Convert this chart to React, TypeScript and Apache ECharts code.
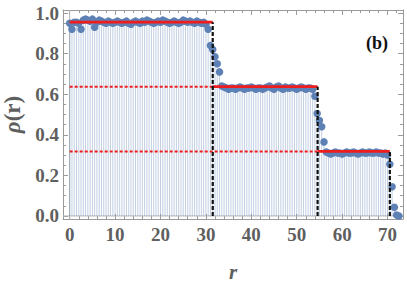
import React, { useEffect, useRef } from "react";
import * as echarts from "echarts";

// sample spacing along r (points at r = 0, 0.5, 1, ...)
const R_STEP = 0.5;

// density values rho(r), r = 0 .. 72.5 in steps of 0.5
const rhoPlateau1 = [
  0.95, 0.92, 0.955, 0.955, 0.95, 0.92, 0.965, 0.97, 0.965, 0.96,
  0.97, 0.93, 0.955, 0.965, 0.96, 0.955, 0.95, 0.96, 0.955, 0.95,
  0.955, 0.96, 0.955, 0.95, 0.955, 0.96, 0.95, 0.945, 0.955, 0.96,
  0.955, 0.95, 0.96, 0.955, 0.965, 0.96, 0.955, 0.95, 0.955, 0.96,
  0.955, 0.965, 0.96, 0.955, 0.95, 0.955, 0.96, 0.955, 0.95, 0.955,
  0.965, 0.96, 0.955, 0.96, 0.955, 0.95, 0.96, 0.955, 0.95, 0.955,
  0.945,
];
const rhoDrop1 = [0.92, 0.84, 0.82, 0.785, 0.75, 0.71, 0.64];
const rhoPlateau2 = [
  0.635, 0.63, 0.625, 0.63, 0.63, 0.625, 0.63, 0.635, 0.63, 0.625,
  0.63, 0.63, 0.635, 0.63, 0.625, 0.63, 0.63, 0.625, 0.63, 0.635,
  0.64, 0.63, 0.625, 0.635, 0.64, 0.63, 0.625, 0.635, 0.63, 0.63,
  0.635, 0.63, 0.625, 0.63, 0.635, 0.63, 0.625, 0.63, 0.63,
];
const rhoDrop2 = [0.625, 0.59, 0.505, 0.47, 0.44, 0.365];
const rhoPlateau3 = [
  0.315, 0.31, 0.305, 0.31, 0.315, 0.31, 0.31, 0.305, 0.31, 0.315,
  0.31, 0.31, 0.315, 0.31, 0.305, 0.31, 0.315, 0.31, 0.31, 0.315,
  0.31, 0.31, 0.315, 0.31, 0.31, 0.305, 0.31,
];
const rhoDrop3 = [0.30, 0.255, 0.144, 0.043, 0.005, 0.0];

const rhoValues = [
  ...rhoPlateau1,
  ...rhoDrop1,
  ...rhoPlateau2,
  ...rhoDrop2,
  ...rhoPlateau3,
  ...rhoDrop3,
];

// fitted plateau levels and boundaries
const levels = [0.955, 0.637, 0.318];
const boundaries = [31.5, 54.6, 70.5];

const xMajor = [0, 10, 20, 30, 40, 50, 60, 70];
const xMinor = [0, 2, 4, 6, 8, 10, 12, 14, 16, 18, 20, 22, 24, 26, 28, 30, 32, 34, 36, 38, 40, 42, 44, 46, 48, 50, 52, 54, 56, 58, 60, 62, 64, 66, 68, 70, 72];
const yMajor = [0, 0.2, 0.4, 0.6, 0.8, 1.0];
const yMinor = [0, 0.05, 0.1, 0.15, 0.2, 0.25, 0.3, 0.35, 0.4, 0.45, 0.5, 0.55, 0.6, 0.65, 0.7, 0.75, 0.8, 0.85, 0.9, 0.95, 1.0];

const X_MIN = -1.47;
const X_MAX = 73.4;
const Y_MIN = -0.015;
const Y_MAX = 1.015;

const FRAME = "#9a9a9a";
const LABEL = "#5f5f5f";
const RED = "#ee1c1c";
const SERIF = "Liberation Serif";

export default function App() {
  const ref = useRef<HTMLDivElement>(null);
  useEffect(() => {
    if (!ref.current) return;
    const chart = echarts.init(ref.current, null, { renderer: "svg" });
    const pts = rhoValues.map((v, i) => [i * R_STEP, v]);

    const labelStyle = {
      color: LABEL,
      fontFamily: SERIF,
      fontWeight: "bold" as const,
      fontSize: 19,
    };

    const xAx = (pos: "bottom" | "top", major: boolean, showLabel: boolean, showLine: boolean) => ({
      type: "value",
      min: X_MIN,
      max: X_MAX,
      position: pos,
      axisLine: { show: showLine, onZero: false, lineStyle: { color: FRAME, width: 1 } },
      axisTick: {
        show: true,
        inside: true,
        length: major ? 5 : 3,
        customValues: major ? xMajor : xMinor,
        lineStyle: { color: FRAME, width: 1 },
      },
      axisLabel: showLabel
        ? { show: true, customValues: xMajor, margin: 6, ...labelStyle }
        : { show: false },
      splitLine: { show: false },
    });
    const yAx = (pos: "left" | "right", major: boolean, showLabel: boolean, showLine: boolean) => ({
      type: "value",
      min: Y_MIN,
      max: Y_MAX,
      position: pos,
      axisLine: { show: showLine, onZero: false, lineStyle: { color: FRAME, width: 1 } },
      axisTick: {
        show: true,
        inside: true,
        length: major ? 5 : 3,
        customValues: major ? yMajor : yMinor,
        lineStyle: { color: FRAME, width: 1 },
      },
      axisLabel: showLabel
        ? {
            show: true,
            customValues: yMajor,
            margin: 4,
            formatter: (v: number) => v.toFixed(1),
            ...labelStyle,
          }
        : { show: false },
      splitLine: { show: false },
    });

    const xAxes = [
      {
        ...xAx("bottom", true, true, true),
        name: "r",
        nameLocation: "middle",
        nameGap: 42,
        nameTextStyle: {
          color: LABEL,
          fontFamily: SERIF,
          fontStyle: "italic",
          fontWeight: "bold",
          fontSize: 21,
        },
      },
      xAx("bottom", false, false, false),
      xAx("top", true, false, true),
      xAx("top", false, false, false),
    ];
    const yAxes = [
      {
        ...yAx("left", true, true, true),
        name: "{i|ρ}(r)",
        nameLocation: "middle",
        nameGap: 38,
        nameTextStyle: {
          color: LABEL,
          fontFamily: SERIF,
          fontWeight: "bold",
          fontSize: 23,
          rich: {
            i: {
              color: LABEL,
              fontFamily: SERIF,
              fontStyle: "italic",
              fontWeight: "bold",
              fontSize: 23,
            },
          },
        },
      },
      yAx("left", false, false, false),
      yAx("right", true, false, true),
      yAx("right", false, false, false),
    ];

    const seg = (name: string, data: number[][], color: string, type: any, width: number, z: number) => ({
      name,
      type: "line",
      data,
      symbol: "none",
      silent: true,
      z,
      lineStyle: { color, type, width },
    });

    chart.setOption({
      animation: false,
      grid: {
        left: 63,
        top: 10,
        right: 4,
        bottom: 63,
        containLabel: false,
        outerBoundsMode: "none",
      },
      xAxis: xAxes,
      yAxis: yAxes,
      series: [
        seg("axisY", [[0, Y_MIN], [0, Y_MAX]], "#b5b5b5", "solid", 1, 1),
        seg("axisX", [[X_MIN, 0], [X_MAX, 0]], "#b5b5b5", "solid", 1, 1),
        {
          name: "stems",
          type: "bar",
          data: pts,
          barWidth: 1,
          z: 2,
          itemStyle: { color: "rgba(94,129,181,0.38)" },
        },
        seg("dot1", [[0, levels[1]], [boundaries[0], levels[1]]], RED, [3, 2], 2, 3),
        seg("dot2", [[0, levels[2]], [boundaries[1], levels[2]]], RED, [3, 2], 2, 3),
        {
          name: "points",
          type: "scatter",
          data: pts,
          symbolSize: 7.5,
          z: 4,
          itemStyle: { color: "#5e81b5", opacity: 1 },
        },
        seg("lvl1", [[0, levels[0]], [boundaries[0], levels[0]]], RED, "solid", 2.8, 5),
        seg("lvl2", [[boundaries[0], levels[1]], [boundaries[1], levels[1]]], RED, "solid", 2.8, 5),
        seg("lvl3", [[boundaries[1], levels[2]], [boundaries[2], levels[2]]], RED, "solid", 2.8, 5),
        seg("b1", [[boundaries[0], 0], [boundaries[0], levels[0]]], "#111111", [4, 2], 2.2, 6),
        seg("b2", [[boundaries[1], 0], [boundaries[1], levels[1]]], "#111111", [4, 2], 2.2, 6),
        seg("b3", [[boundaries[2], 0], [boundaries[2], levels[2]]], "#111111", [4, 2], 2.2, 6),
      ],
      graphic: [
        {
          type: "text",
          x: 377,
          y: 43,
          style: {
            text: "(b)",
            fill: "#111111",
            fontFamily: SERIF,
            fontWeight: "bold",
            fontSize: 18,
            align: "center",
            verticalAlign: "middle",
          },
        },
      ],
    });
    return () => chart.dispose();
  }, []);
  return (
    <div
      ref={ref}
      style={{ position: "absolute", left: 0, top: 0, width: 407, height: 282 }}
    />
  );
}
